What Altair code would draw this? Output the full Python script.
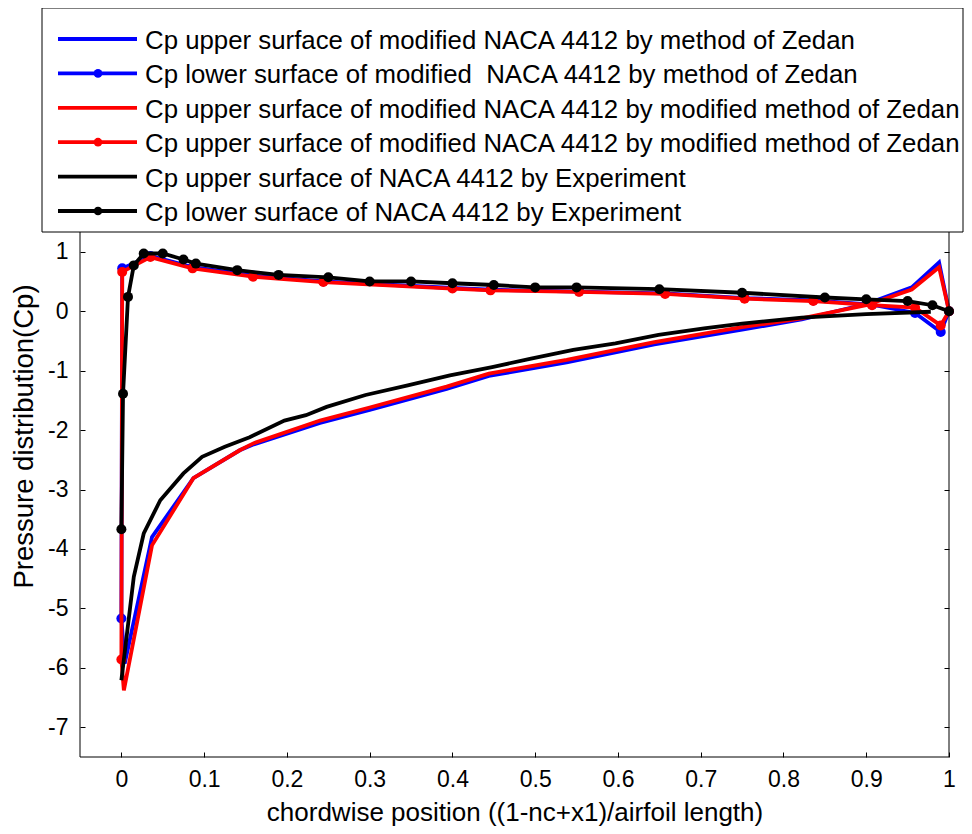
import altair as alt
import pandas as pd

# ---------------- data ----------------
# Method of Zedan, upper surface (no markers)
zu_x = [0.0, 0.004, 0.037, 0.087, 0.143, 0.16, 0.24, 0.30, 0.393, 0.444, 0.538, 0.644, 0.75, 0.822, 0.90, 0.955, 0.988, 1.0]
zu_y = [-5.17, -5.93, -3.80, -2.81, -2.34, -2.24, -1.88, -1.66, -1.31, -1.09, -0.86, -0.56, -0.31, -0.14, 0.12, 0.40, 0.82, 0.0]
# Method of Zedan, lower surface (markers)
zl_x = [0.0, 0.001, 0.035, 0.086, 0.159, 0.244, 0.40, 0.446, 0.553, 0.657, 0.753, 0.836, 0.907, 0.959, 0.99, 1.0]
zl_y = [-5.17, 0.72, 0.93, 0.74, 0.60, 0.50, 0.39, 0.36, 0.33, 0.30, 0.22, 0.18, 0.11, -0.03, -0.35, 0.0]
# Modified method of Zedan, upper surface (no markers)
mu_x = [0.0, 0.003, 0.037, 0.087, 0.143, 0.16, 0.24, 0.30, 0.393, 0.444, 0.538, 0.644, 0.75, 0.822, 0.90, 0.955, 0.988, 1.0]
mu_y = [-5.86, -6.38, -3.94, -2.81, -2.34, -2.22, -1.84, -1.62, -1.27, -1.05, -0.82, -0.52, -0.27, -0.12, 0.10, 0.365, 0.74, 0.0]
# Modified method of Zedan, lower surface (markers)
ml_x = [0.0, 0.001, 0.035, 0.086, 0.159, 0.244, 0.40, 0.446, 0.553, 0.657, 0.753, 0.836, 0.907, 0.959, 0.99, 1.0]
ml_y = [-5.86, 0.66, 0.91, 0.72, 0.58, 0.49, 0.38, 0.35, 0.325, 0.29, 0.21, 0.17, 0.10, 0.06, -0.24, 0.0]
# Experiment, upper surface (no markers)
eu_x = [0.0, 0.015, 0.027, 0.047, 0.075, 0.0975, 0.125, 0.155, 0.197, 0.223, 0.248, 0.295, 0.346, 0.397, 0.448, 0.495, 0.546, 0.597, 0.649, 0.704, 0.75, 0.822, 0.90, 0.978]
eu_y = [-6.21, -4.47, -3.74, -3.18, -2.73, -2.45, -2.28, -2.12, -1.84, -1.75, -1.61, -1.41, -1.25, -1.08, -0.94, -0.80, -0.65, -0.54, -0.40, -0.29, -0.21, -0.11, -0.05, -0.01]
# Experiment, lower surface (markers)
el_x = [0.0, 0.002, 0.008, 0.015, 0.027, 0.05, 0.075, 0.09, 0.14, 0.19, 0.25, 0.30, 0.35, 0.40, 0.45, 0.50, 0.55, 0.65, 0.75, 0.85, 0.90, 0.95, 0.98, 1.0]
el_y = [-3.67, -1.39, 0.24, 0.77, 0.97, 0.97, 0.87, 0.80, 0.69, 0.61, 0.57, 0.50, 0.50, 0.47, 0.44, 0.40, 0.40, 0.37, 0.31, 0.23, 0.20, 0.17, 0.10, 0.0]

legend_labels = [
    "Cp upper surface of modified NACA 4412 by method of Zedan",
    "Cp lower surface of modified\u00a0 NACA 4412 by method of Zedan",
    "Cp upper surface of modified NACA 4412 by modified method of Zedan",
    "Cp upper surface of modified NACA 4412 by modified method of Zedan",
    "Cp upper surface of NACA 4412 by Experiment",
    "Cp lower surface of NACA 4412 by Experiment",
]
legend_colors = ["#0000ff", "#0000ff", "#ff0000", "#ff0000", "#000000", "#000000"]
legend_marker = [False, True, False, True, False, True]

x_ticks = [0, 0.1, 0.2, 0.3, 0.4, 0.5, 0.6, 0.7, 0.8, 0.9, 1]
y_ticks = [-7, -6, -5, -4, -3, -2, -1, 0, 1]

# ---------------- layout ----------------
W, H = 869, 535
FONT = "Liberation Sans"
LW = 3.8
MS = 100

xsc = alt.Scale(domain=[-0.05, 1.0], nice=False, zero=False)
ysc = alt.Scale(domain=[-7.5, 1.5], nice=False, zero=False)

x_axis = alt.Axis(values=x_ticks, labelExpr="'' + datum.value", orient="bottom",
                  title="chordwise position ((1-nc+x1)/airfoil length)",
                  offset=-5, domain=False, tickSize=5, tickColor="black", tickWidth=1,
                  labelFont=FONT, labelFontSize=23, labelColor="black", labelPadding=11,
                  labelFlush=False, labelOverlap=False, grid=False,
                  titleFont=FONT, titleFontSize=26, titleFontWeight="normal", titleColor="black",
                  titleY=60, titleBaseline="middle")
y_axis_l = alt.Axis(values=y_ticks, labelExpr="'' + datum.value", orient="left",
                    title="Pressure distribution(Cp)",
                    offset=-5, domain=False, tickSize=5, tickColor="black", tickWidth=1,
                    labelFont=FONT, labelFontSize=23, labelColor="black", labelPadding=12,
                    labelFlush=False, labelOverlap=False, grid=False,
                    titleFont=FONT, titleFontSize=27.5, titleFontWeight="normal", titleColor="black",
                    titleX=-61, titleY=214, titleAlign="center", titleBaseline="middle")
y_axis_r = alt.Axis(values=y_ticks, orient="right", title=None, labels=False,
                    offset=-5, domain=False, tickSize=5, tickColor="black", tickWidth=1, grid=False)


def frame(xs, ys):
    return pd.DataFrame({"x": xs, "y": ys, "i": list(range(len(xs)))})


def enc(ax_x=None, ax_y=None):
    return dict(x=alt.X("x:Q", scale=xsc, axis=ax_x),
                y=alt.Y("y:Q", scale=ysc, axis=ax_y),
                order=alt.Order("i:Q"))


layers = []
# plotting order as in the original: blue, red, black
layers.append(alt.Chart(frame(zu_x, zu_y)).mark_line(color="#0000ff", strokeWidth=LW).encode(**enc(x_axis, y_axis_l)))
layers.append(alt.Chart(frame(zl_x, zl_y)).mark_line(color="#0000ff", strokeWidth=LW).encode(**enc(None, y_axis_r)))
layers.append(alt.Chart(frame(zl_x, zl_y)).mark_circle(color="#0000ff", size=MS, opacity=1).encode(**enc()))
layers.append(alt.Chart(frame(mu_x, mu_y)).mark_line(color="#ff0000", strokeWidth=LW).encode(**enc()))
layers.append(alt.Chart(frame(ml_x, ml_y)).mark_line(color="#ff0000", strokeWidth=LW).encode(**enc()))
layers.append(alt.Chart(frame(ml_x, ml_y)).mark_circle(color="#ff0000", size=MS, opacity=1).encode(**enc()))
layers.append(alt.Chart(frame(eu_x, eu_y)).mark_line(color="#000000", strokeWidth=LW).encode(**enc()))
layers.append(alt.Chart(frame(el_x, el_y)).mark_line(color="#000000", strokeWidth=LW).encode(**enc()))
layers.append(alt.Chart(frame(el_x, el_y)).mark_circle(color="#000000", size=MS, opacity=1).encode(**enc()))

one = pd.DataFrame({"k": [0]})
# axes box
layers.append(alt.Chart(one).mark_rect(fillOpacity=0, stroke="black", strokeWidth=1).encode(
    x=alt.value(0), x2=alt.value(W), y=alt.value(0), y2=alt.value(H)))
# legend box
layers.append(alt.Chart(one).mark_rect(fill="white", stroke="black", strokeWidth=1).encode(
    x=alt.value(-38), x2=alt.value(883), y=alt.value(-214), y2=alt.value(10)))
for r, (lab, col, mk) in enumerate(zip(legend_labels, legend_colors, legend_marker)):
    ly = -183 + 34.4 * r
    layers.append(alt.Chart(one).mark_rule(color=col, strokeWidth=LW).encode(
        x=alt.value(-22), x2=alt.value(57), y=alt.value(ly)))
    if mk:
        layers.append(alt.Chart(one).mark_circle(color=col, size=75, opacity=1).encode(
            x=alt.value(18), y=alt.value(ly)))
    layers.append(alt.Chart(one).mark_text(align="left", baseline="middle", font=FONT,
                                           fontSize=25.8, color="black").encode(
        x=alt.value(65), y=alt.value(ly + 2), text=alt.value(lab)))

chart = alt.layer(*layers).resolve_axis(x="independent", y="independent").properties(
    width=W, height=H,
    autosize=alt.AutoSizeParams(type="none"),
    padding={"left": 72, "top": 214, "right": 15, "bottom": 69},
    background="white",
).configure_view(strokeWidth=0)

chart.save("out.html", embed_options={"renderer": "svg", "actions": False})
